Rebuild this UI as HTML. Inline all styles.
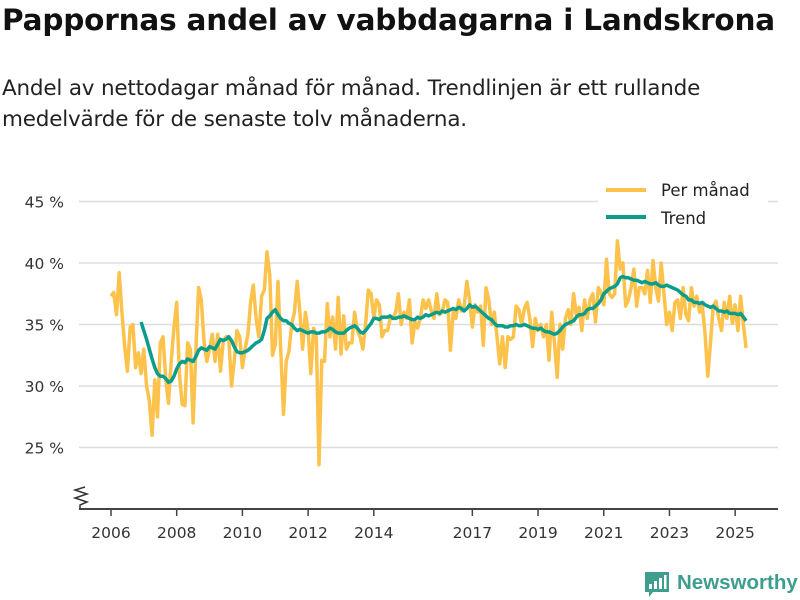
<!DOCTYPE html>
<html><head><meta charset="utf-8"><style>
body{margin:0;background:#fff;width:800px;height:600px;overflow:hidden;font-family:"DejaVu Sans","Liberation Sans",sans-serif;color:#111}
#title{position:absolute;left:2px;top:3px;font-size:29.5px;font-weight:bold;letter-spacing:-0.2px;white-space:nowrap}
#sub{position:absolute;left:2px;top:73px;font-size:21.5px;line-height:31px;color:#222;white-space:nowrap;letter-spacing:-0.2px}
svg{position:absolute;left:0;top:0}
</style></head><body>
<div id="title">Pappornas andel av vabbdagarna i Landskrona</div>
<div id="sub">Andel av nettodagar månad för månad. Trendlinjen är ett rullande<br>medelvärde för de senaste tolv månaderna.</div>
<svg id="chart" width="800" height="600"></svg>
<script>
const yTicks=[25,30,35,40,45];
const yTickLabels=["25 %","30 %","35 %","40 %","45 %"];
const xTicks=[2006,2008,2010,2012,2014,2017,2019,2021,2023,2025];
const monthlyStart=2006;
const monthly=[
37.3,37.6,35.8,39.2,36,33.2,31.2,34.8,35,31.5,32.7,31,
33,30,28.8,26,30.5,27.5,33.5,34,30.5,28.6,32,34.8,
36.8,31,28.5,28.4,33.5,33,27,33,38,37,33.5,32,
33,34.2,32,34.2,31.2,33.6,34,34,30,32,34.5,34,
31.5,33,34.2,36.8,38.2,35.5,34,37.3,37.8,40.9,39,32.5,
33.4,38.5,33,27.7,32,32.8,35,36,38.5,36,33,36,
34.5,31,34.7,34,23.6,32.1,32,36.7,34,35.6,33,37.2,
32.6,35.7,33,33.5,33.5,36,34.5,34,33,35,37.8,37.5,
35.5,37,36.6,34,34.5,34.5,35.5,35.5,36,37.5,35,36,
35.5,37,33.5,35.2,34.7,35.5,37,36.3,37,36.1,35.5,37.5,
35.8,36,37,36.8,32.9,36,35.5,37,36.1,36.5,38.5,37,
34.8,36.6,36,36.5,33.3,38,37,35,36,34,31.8,34,
31.5,34,33.8,34,36.5,36.2,35,36.3,36.8,35.5,33.2,35.5,
34.5,35,34,35,32.1,36,33.5,30.7,35,33,35.5,36.2,
35,37.5,35.7,36.4,34.5,37,35.5,37,37.5,35.2,38,37.6,
36.6,40.3,37.5,37.2,37.5,41.8,39.5,40,36.5,37,38,39.5,
36.5,38,38,37.5,39.4,36.8,40.2,38,36.9,40,37.5,35,
36,34.5,36.8,37,35.5,38,35.8,35.3,38,36.5,37.3,36,
36.5,34.3,30.8,33.5,36.5,36.9,35.5,34.5,36.8,35.5,37.3,35.1,
36.6,34.5,37.3,35,33.1];
const trendStartOffset=11;
const trend=[35.2,
34.5,33.8,33,32.2,31.5,31,30.8,30.8,30.6,30.3,30.4,30.8,
31.4,31.8,32,31.9,32.2,32.1,32,32.4,32.9,33.1,33,32.9,
33.2,33.1,33,33.4,33.8,33.7,33.8,34,33.7,33.2,32.8,32.7,
32.7,32.8,32.9,33.1,33.3,33.5,33.6,33.8,34.5,35.5,35.7,36,
36.2,35.8,35.5,35.3,35.3,35.1,35,34.7,34.5,34.6,34.5,34.4,
34.3,34.4,34.4,34.3,34.3,34.4,34.4,34.5,34.7,34.6,34.4,34.3,
34.3,34.3,34.5,34.7,34.8,34.9,34.7,34.4,34.3,34.5,34.8,35.1,
35.5,35.5,35.4,35.6,35.6,35.6,35.7,35.5,35.5,35.6,35.6,35.7,
35.6,35.5,35.4,35.4,35.6,35.5,35.6,35.8,35.7,35.8,35.9,36,
35.9,36.1,36,36.1,36.2,36.3,36.2,36.4,36.3,36.1,36.3,36.6,
36.4,36.5,36.3,36.1,35.9,35.7,35.5,35.4,35.1,34.9,34.9,34.9,
34.8,34.8,34.9,34.9,35,34.9,34.9,35,34.9,34.8,34.7,34.7,
34.6,34.7,34.5,34.4,34.4,34.3,34.2,34.3,34.5,34.8,35,35.1,
35.2,35.3,35.6,35.8,35.8,35.9,36.2,36.3,36.3,36.5,36.7,37,
37.5,37.7,37.9,38,38.1,38.3,38.8,38.9,38.8,38.8,38.7,38.6,
38.6,38.5,38.4,38.5,38.4,38.3,38.3,38.4,38.2,38.1,38.1,38.2,
38.1,38,37.9,37.8,37.6,37.4,37.3,37,37,36.8,36.8,36.7,
36.8,36.6,36.5,36.4,36.5,36.3,36.1,36.1,36,36.1,35.9,35.9,
35.9,35.8,35.9,35.6,35.3];

const NS='http://www.w3.org/2000/svg';
const svg=document.getElementById('chart');
function X(year){return 111+(year-2006)*32.85;}
function Y(v){return 263-(v-40)*12.3;}
function mk(tag,attrs,parent){const e=document.createElementNS(NS,tag);for(const k in attrs)e.setAttribute(k,attrs[k]);(parent||svg).appendChild(e);return e;}

yTicks.forEach((t,i)=>{
  const g=mk('line',{x1:79,x2:778,y1:Y(t),y2:Y(t),stroke:'#ddd','stroke-width':1.5});
  
  
  const tx=mk('text',{x:64,y:Y(t)+6,'text-anchor':'end','font-size':15.5,fill:'#333'});
  tx.textContent=yTickLabels[i];
  
  
});
const ax=mk('line',{x1:79,x2:778,y1:509,y2:509,stroke:'#444','stroke-width':2});


const zz=mk('polyline',{points:'80,509 80,505 87,502 75,498 87,494 75,490 85,487',fill:'none',stroke:'#333','stroke-width':1.5});


xTicks.forEach(t=>{
  const tk=mk('line',{x1:X(t),x2:X(t),y1:509,y2:516,stroke:'#444','stroke-width':1.5});
  
  
  const tx=mk('text',{x:X(t),y:538,'text-anchor':'middle','font-size':15.5,fill:'#333'});
  tx.textContent=String(t);
  
  
});
function pts(arr,off){return arr.map((v,i)=>X(monthlyStart+(i+off)/12).toFixed(1)+','+Y(v).toFixed(1)).join(' ');}
const l1=mk('polyline',{points:pts(monthly,0),fill:'none',stroke:'#fdc24b','stroke-width':3.5,'stroke-linejoin':'round'});


const l2=mk('polyline',{points:pts(trend,trendStartOffset),fill:'none',stroke:'#0a9d8b','stroke-width':3.5,'stroke-linejoin':'round'});



const lb=mk('rect',{x:598,y:176,width:170,height:58,fill:'#fff'});


const le1=mk('line',{x1:606,x2:646,y1:190,y2:190,stroke:'#fdc24b','stroke-width':4});


const lt1=mk('text',{x:661,y:196,'font-size':16.5,fill:'#222'});lt1.textContent='Per månad';


const le2=mk('line',{x1:606,x2:646,y1:217,y2:217,stroke:'#0a9d8b','stroke-width':4});


const lt2=mk('text',{x:661,y:224,'font-size':16.5,fill:'#222'});lt2.textContent='Trend';



const logo=mk('g',{});


mk('path',{d:'M645,572 h24 v20 h-16 l-4,5 v-5 h-4 z',fill:'#3d9e8e'},logo);
mk('rect',{x:649,y:584,width:3,height:5,fill:'#fff'},logo);
mk('rect',{x:654,y:581,width:3,height:8,fill:'#fff'},logo);
mk('rect',{x:659,y:578,width:3,height:11,fill:'#fff'},logo);
mk('rect',{x:664,y:575,width:2.5,height:14,fill:'#fff'},logo);
const lt=mk('text',{x:677,y:589,'font-size':20.5,'font-weight':'bold',fill:'#3d9e8e','font-family':'Liberation Sans, sans-serif'},logo);
lt.textContent='Newsworthy';
</script>
</body></html>
